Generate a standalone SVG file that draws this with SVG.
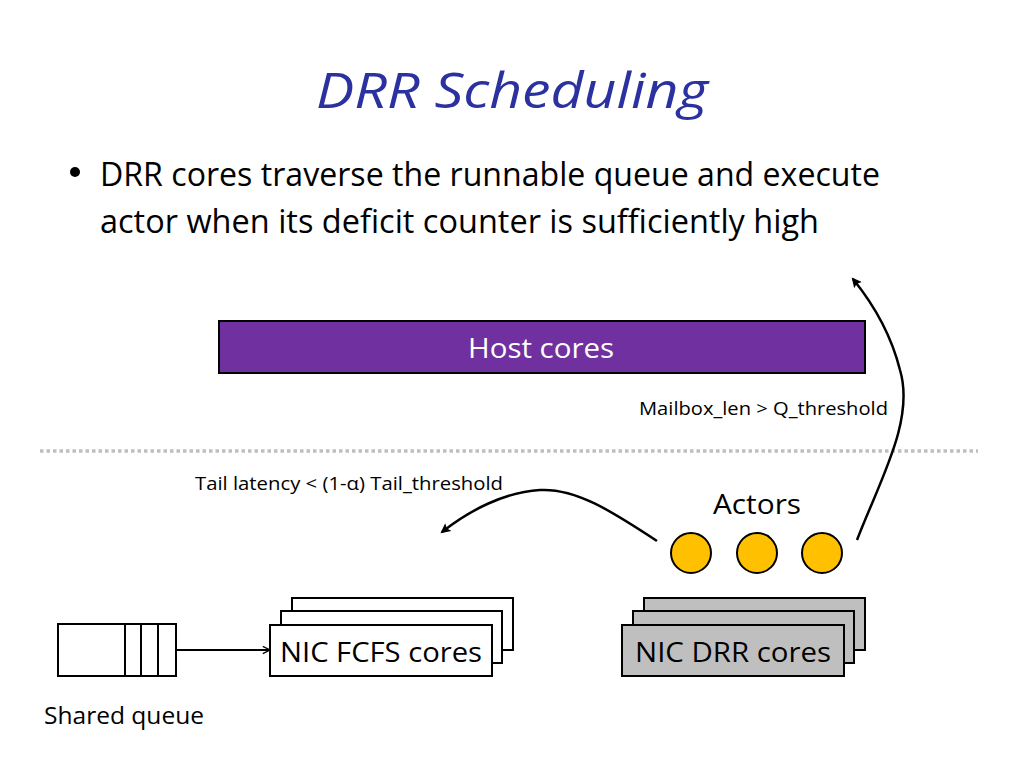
<svg xmlns="http://www.w3.org/2000/svg" width="1024" height="768" viewBox="0 0 1024 768">
<style>
text{font-family:"Open Sans","Noto Sans","Liberation Sans",sans-serif;fill:#000}
.box{stroke:#000;stroke-width:2}
.w{fill:#fff}
.g{fill:#bfbfbf}
.lbl{font-size:19px}
.big{font-size:28px}
.conn{fill:none;stroke:#000;stroke-width:2.5}
</style>
<defs>
<marker id="ah" viewBox="0 0 10 10" refX="8" refY="5" markerWidth="13" markerHeight="10" orient="auto" markerUnits="userSpaceOnUse">
<path d="M0,0 L10,5 L0,10 L2,5 z" fill="#000"/>
</marker>
<marker id="ao" viewBox="0 0 10 10" refX="9" refY="5" markerWidth="9" markerHeight="9" orient="auto" markerUnits="userSpaceOnUse">
<path d="M1,1 L9,5 L1,9" fill="none" stroke="#000" stroke-width="1.5"/>
</marker>
</defs>
<rect width="1024" height="768" fill="#fff"/>
<text x="512" y="108" text-anchor="middle" font-size="50" font-style="italic" style="fill:#2b32a0" textLength="392" lengthAdjust="spacingAndGlyphs">DRR Scheduling</text>
<circle cx="75" cy="172" r="5" fill="#000"/>
<text x="100" y="186" font-size="32" textLength="780" lengthAdjust="spacingAndGlyphs">DRR cores traverse the runnable queue and execute</text>
<text x="100" y="233" font-size="32" textLength="719" lengthAdjust="spacingAndGlyphs">actor when its deficit counter is sufficiently high</text>
<line x1="40" y1="451" x2="978" y2="451" stroke="#bfbfbf" stroke-width="3.5" stroke-dasharray="3.5 3"/>
<g id="host">
<rect x="219" y="321" width="646" height="52" fill="#7030a0" class="box"/>
<text x="541" y="358" text-anchor="middle" class="big" style="fill:#fff" textLength="146" lengthAdjust="spacingAndGlyphs">Host cores</text>
</g>
<g id="actors">
<text x="757" y="514" text-anchor="middle" class="big" textLength="88" lengthAdjust="spacingAndGlyphs">Actors</text>
<circle cx="691" cy="553" r="20" fill="#ffc000" stroke="#000" stroke-width="2"/>
<circle cx="757" cy="553" r="20" fill="#ffc000" stroke="#000" stroke-width="2"/>
<circle cx="822" cy="553" r="20" fill="#ffc000" stroke="#000" stroke-width="2"/>
</g>
<g id="shared-queue">
<rect x="58" y="624" width="118" height="52" class="box w"/>
<line x1="125" y1="624" x2="125" y2="676" stroke="#000" stroke-width="2"/>
<line x1="141" y1="624" x2="141" y2="676" stroke="#000" stroke-width="2"/>
<line x1="158" y1="624" x2="158" y2="676" stroke="#000" stroke-width="2"/>
<text x="44" y="724" font-size="24" textLength="160" lengthAdjust="spacingAndGlyphs">Shared queue</text>
</g>
<g id="nic-fcfs">
<rect x="292" y="598" width="221" height="52" class="box w"/>
<rect x="281" y="611" width="221" height="52" class="box w"/>
<rect x="270" y="625" width="222" height="51" class="box w"/>
<text x="381" y="662" text-anchor="middle" class="big" textLength="202" lengthAdjust="spacingAndGlyphs">NIC FCFS cores</text>
</g>
<g id="nic-drr">
<rect x="644" y="598" width="221" height="52" class="box g"/>
<rect x="633" y="611" width="221" height="52" class="box g"/>
<rect x="622" y="625" width="222" height="51" class="box g"/>
<text x="733" y="662" text-anchor="middle" class="big" textLength="196" lengthAdjust="spacingAndGlyphs">NIC DRR cores</text>
</g>
<g id="connectors">
<line x1="176" y1="650" x2="270" y2="650" stroke="#000" stroke-width="2" marker-end="url(#ao)"/>
<path class="conn" d="M657,541 C610,510 575,488 540,490 C505,492 470,510 442,532" marker-end="url(#ah)"/>
<path class="conn" d="M857,540 C880,480 915,420 900,370 C890,330 870,300 853,279" marker-end="url(#ah)"/>
<text x="639" y="415" class="lbl" textLength="249" lengthAdjust="spacingAndGlyphs">Mailbox_len &gt; Q_threshold</text>
<text x="195" y="490" class="lbl" textLength="308" lengthAdjust="spacingAndGlyphs">Tail latency &lt; (1-α) Tail_threshold</text>
</g>
</svg>
